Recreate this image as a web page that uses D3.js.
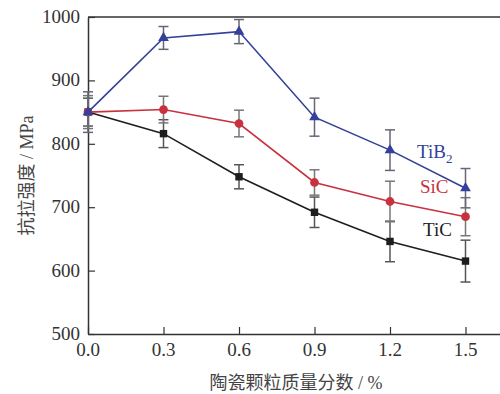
<!DOCTYPE html>
<html>
<head>
<meta charset="utf-8">
<script src="https://cdn.jsdelivr.net/npm/d3@7"></script>
<style>
  body { margin: 0; background: #fff; }
  svg text { font-family: "Liberation Serif", "Noto Sans CJK SC", serif; }
</style>
</head>
<body>
<div id="chart"></div>
<script>
const xValues = [0.0, 0.3, 0.6, 0.9, 1.2, 1.5];
const xTicks = ["0.0", "0.3", "0.6", "0.9", "1.2", "1.5"];
const yTicks = [500, 600, 700, 800, 900, 1000];

const tib2 = [850, 967, 977, 842, 790, 730];
const tib2Err = [32, 18, 19, 30, 32, 31];
const sic = [850, 854, 832, 739, 709, 685];
const sicErr = [26, 21, 21, 20, 32, 30];
const tic = [850, 816, 748, 692, 646, 615];
const ticErr = [22, 22, 19, 24, 32, 33];

const width = 500, height = 394;
const margin = ({ top: 17, right: 0, bottom: 60, left: 88 });

const svg = d3.select("#chart")
  .append("svg")
  .attr("width", width)
  .attr("height", height);

const xScale = d3.scaleLinear()
  .domain([0, 1.5 * 412 / 377.5])
  .range([margin.left, width - margin.right]);

const yScale = d3.scaleLinear()
  .domain([500, 1000])
  .range([height - margin.bottom, margin.top]);

// axes: ticks point inward
const xAxis = d3.axisTop(xScale)
  .tickValues(xValues)
  .tickFormat("")
  .tickSizeInner(7)
  .tickSizeOuter(0);

const gx = svg.append("g")
  .attr("transform", `translate(0,${yScale(500)})`)
  .call(xAxis);
gx.select(".domain").attr("stroke", "#333").attr("stroke-width", 1.5);
gx.selectAll(".tick line").attr("stroke", "#333").attr("stroke-width", 1.2);

svg.append("g")
  .selectAll("text")
  .data(xValues)
  .join("text")
  .attr("x", d => xScale(d))
  .attr("y", yScale(500) + 22)
  .attr("text-anchor", "middle")
  .attr("font-size", "19px")
  .attr("fill", "#333")
  .text((d, i) => xTicks[i]);

const yAxis = d3.axisRight(yScale)
  .tickValues(yTicks)
  .tickFormat("")
  .tickSizeInner(7)
  .tickSizeOuter(0);

const gy = svg.append("g")
  .attr("transform", `translate(${margin.left},0)`)
  .call(yAxis);
gy.select(".domain").attr("stroke", "#333").attr("stroke-width", 1.5);
gy.selectAll(".tick line").attr("stroke", "#333").attr("stroke-width", 1.2);

svg.append("g")
  .selectAll("text")
  .data(yTicks)
  .join("text")
  .attr("x", margin.left - 8)
  .attr("y", d => yScale(d) + 6)
  .attr("text-anchor", "end")
  .attr("font-size", "19px")
  .attr("fill", "#333")
  .text(d => d);

// top frame line
svg.append("line")
  .attr("x1", margin.left).attr("x2", width)
  .attr("y1", yScale(1000)).attr("y2", yScale(1000))
  .attr("stroke", "#333").attr("stroke-width", 1.5);

// axis titles
svg.append("text")
  .attr("x", 296)
  .attr("y", 389)
  .attr("text-anchor", "middle")
  .attr("font-size", "18px")
  .attr("fill", "#444")
  .text("陶瓷颗粒质量分数 / %");

svg.append("text")
  .attr("transform", `translate(33,${yScale(750)}) rotate(-90)`)
  .attr("text-anchor", "middle")
  .attr("font-size", "18px")
  .attr("fill", "#444")
  .text("抗拉强度 / MPa");

const series = [
  { name: "TiC", values: tic, err: ticErr, color: "#1e1e1e", bar: "#555", shape: d3.symbolSquare, size: 55 },
  { name: "SiC", values: sic, err: sicErr, color: "#c8323e", bar: "#777", shape: d3.symbolCircle, size: 60 },
  { name: "TiB2", values: tib2, err: tib2Err, color: "#34409a", bar: "#667", shape: d3.symbolTriangle, size: 50 }
];

const line = d3.line()
  .x((d, i) => xScale(xValues[i]))
  .y(d => yScale(d));

series.forEach(s => {
  const g = svg.append("g");
  const bars = g.append("g").attr("stroke", s.bar).attr("stroke-width", 1.5);
  s.values.forEach((v, i) => {
    const x = xScale(xValues[i]);
    const y1 = yScale(v + s.err[i]);
    const y2 = yScale(v - s.err[i]);
    bars.append("line").attr("x1", x).attr("x2", x).attr("y1", y1).attr("y2", y2);
    bars.append("line").attr("x1", x - 5).attr("x2", x + 5).attr("y1", y1).attr("y2", y1);
    bars.append("line").attr("x1", x - 5).attr("x2", x + 5).attr("y1", y2).attr("y2", y2);
  });
  g.append("path")
    .datum(s.values)
    .attr("d", line)
    .attr("fill", "none")
    .attr("stroke", s.color)
    .attr("stroke-width", 1.6);
  g.selectAll(".pt")
    .data(s.values)
    .join("path")
    .attr("class", "pt")
    .attr("transform", (d, i) => `translate(${xScale(xValues[i])},${yScale(d)})`)
    .attr("d", d3.symbol().type(s.shape).size(s.size))
    .attr("fill", s.color);
});

// series labels
const labels = svg.append("g").attr("font-size", "19px");
const tib2Label = labels.append("text")
  .attr("x", 417).attr("y", yScale(778))
  .attr("fill", "#34409a");
tib2Label.append("tspan").text("TiB");
tib2Label.append("tspan").attr("font-size", "13px").attr("dy", 5).text("2");

labels.append("text")
  .attr("x", 420).attr("y", yScale(722))
  .attr("fill", "#c8323e")
  .text("SiC");

labels.append("text")
  .attr("x", 423).attr("y", yScale(655))
  .attr("fill", "#1e1e1e")
  .text("TiC");
</script>
</body>
</html>
